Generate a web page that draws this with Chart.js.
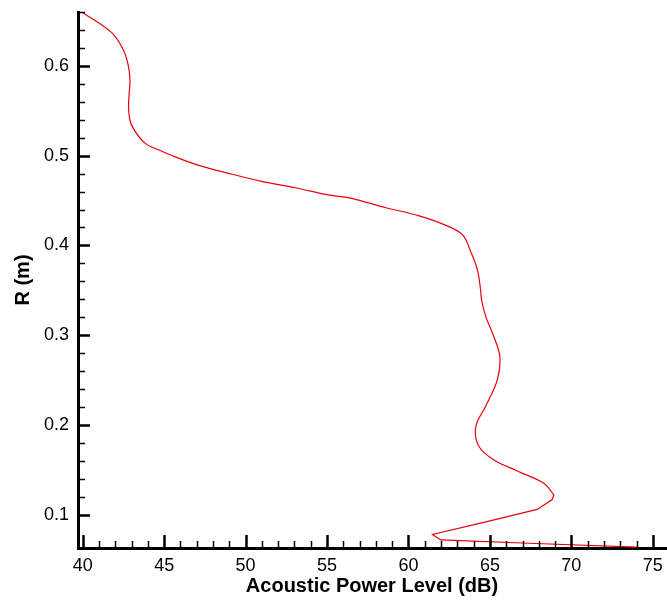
<!DOCTYPE html>
<html>
<head>
<meta charset="utf-8">
<script src="https://cdn.jsdelivr.net/npm/chart.js@4.4.1/dist/chart.umd.min.js"></script>
<style>
  html, body { margin: 0; padding: 0; background: #fff; }
  #wrap { width: 667px; height: 604px; }
</style>
</head>
<body>
<div id="wrap"><canvas id="myChart" width="667" height="604"></canvas></div>
<script>
// acoustic power level (dB) along the radius R (m)
var powerLevel = [39.94, 41.78, 42.49, 42.79, 42.90, 42.85, 42.82, 43.00, 43.82, 44.73,
  45.35, 46.98, 49.02, 51.06, 53.10, 55.14, 56.37, 58.62, 60.65, 62.08,
  63.31, 63.82, 64.23, 64.43, 64.49, 64.74, 65.25, 65.61, 65.45, 64.74,
  64.13, 64.33, 65.25, 66.78, 68.31, 68.93, 68.82, 67.90, 64.94, 61.47,
  61.98, 67.80, 74.00];
var radius = [0.660, 0.637, 0.618, 0.601, 0.584, 0.569, 0.551, 0.534, 0.514, 0.506,
  0.501, 0.490, 0.480, 0.471, 0.464, 0.456, 0.453, 0.442, 0.433, 0.424,
  0.412, 0.393, 0.373, 0.350, 0.339, 0.321, 0.298, 0.276, 0.250, 0.221,
  0.198, 0.176, 0.161, 0.148, 0.135, 0.122, 0.117, 0.106, 0.093, 0.078,
  0.072, 0.068, 0.064];
// the curve is smooth down to the peak near 69 dB, straight segments after
var smoothEnd = 36;

var xTicks = [40, 45, 50, 55, 60, 65, 70, 75];
var yTicks = [0.1, 0.2, 0.3, 0.4, 0.5, 0.6];
var xMinor = [41, 42, 43, 44, 46, 47, 48, 49, 51, 52, 53, 54, 56, 57, 58, 59,
  61, 62, 63, 64, 66, 67, 68, 69, 71, 72, 73, 74];
var yMinor = [0.12, 0.14, 0.16, 0.18, 0.22, 0.24, 0.26, 0.28, 0.32, 0.34, 0.36, 0.38,
  0.42, 0.44, 0.46, 0.48, 0.52, 0.54, 0.56, 0.58, 0.62, 0.64, 0.66];

var font = "'Liberation Sans', Arial, sans-serif";

var pts = [];
for (var i = 0; i < powerLevel.length; i++) {
  pts.push({ x: powerLevel[i], y: radius[i] });
}

// tecplot style ticks pointing into the plot
var inwardTicks = {
  id: 'inwardTicks',
  afterDraw: function (chart) {
    var ctx = chart.ctx, a = chart.chartArea;
    var xs = chart.scales.x, ys = chart.scales.y;
    ctx.save();
    ctx.strokeStyle = '#000';
    function tick(vals, len, w, isX) {
      ctx.lineWidth = w;
      vals.forEach(function (v) {
        ctx.beginPath();
        if (isX) {
          var px = Math.round(xs.getPixelForValue(v)) + 0.5;
          ctx.moveTo(px, a.bottom);
          ctx.lineTo(px, a.bottom - len);
        } else {
          var py = Math.round(ys.getPixelForValue(v)) + 0.5;
          ctx.moveTo(a.left, py);
          ctx.lineTo(a.left + len, py);
        }
        ctx.stroke();
      });
    }
    tick(xTicks, 13, 2.5, true);
    tick(xMinor, 7, 1.5, true);
    tick(yTicks, 12, 2.5, false);
    tick(yMinor, 7, 1.5, false);
    ctx.restore();
  }
};

var lineStyle = { showLine: true, borderColor: '#e8000b', borderWidth: 1.2, pointRadius: 0, fill: false };

var ctx = document.getElementById('myChart').getContext('2d');
var chart = new Chart(ctx, {
  type: 'scatter',
  data: {
    datasets: [
      Object.assign({ data: pts.slice(0, smoothEnd), tension: 0.35 }, lineStyle),
      Object.assign({ data: pts.slice(smoothEnd - 1), tension: 0 }, lineStyle)
    ]
  },
  options: {
    responsive: false,
    animation: false,
    layout: { padding: { top: 12, right: 1, left: 0, bottom: 0 } },
    plugins: { legend: { display: false }, tooltip: { enabled: false } },
    scales: {
      x: {
        type: 'linear',
        min: 39.71,
        max: 75.81,
        afterBuildTicks: function (s) { s.ticks = xTicks.map(function (v) { return { value: v }; }); },
        afterFit: function (s) { s.height = 56; s.paddingLeft = 0; s.paddingRight = 0; },
        grid: { display: false, drawTicks: false },
        border: { display: true, color: '#000', width: 3 },
        ticks: { color: '#000', padding: 7, font: { family: font, size: 18 }, maxRotation: 0 },
        title: {
          display: true,
          text: 'Acoustic Power Level (dB)',
          color: '#000',
          font: { family: font, size: 20, weight: 'bold' },
          padding: { top: 0, bottom: 6 }
        }
      },
      y: {
        type: 'linear',
        min: 0.063,
        max: 0.66,
        afterBuildTicks: function (s) { s.ticks = yTicks.map(function (v) { return { value: v }; }); },
        afterFit: function (s) { s.width = 78; s.paddingTop = 0; s.paddingBottom = 0; },
        grid: { display: false, drawTicks: false },
        border: { display: true, color: '#000', width: 3 },
        ticks: {
          color: '#000', padding: 9, font: { family: font, size: 18 },
          callback: function (v) { return v.toFixed(1); }
        },
        title: {
          display: true,
          text: 'R (m)',
          color: '#000',
          font: { family: font, size: 20, weight: 'bold' },
          padding: { top: 11, bottom: 0 }
        }
      }
    }
  },
  plugins: [inwardTicks]
});
</script>
</body>
</html>
